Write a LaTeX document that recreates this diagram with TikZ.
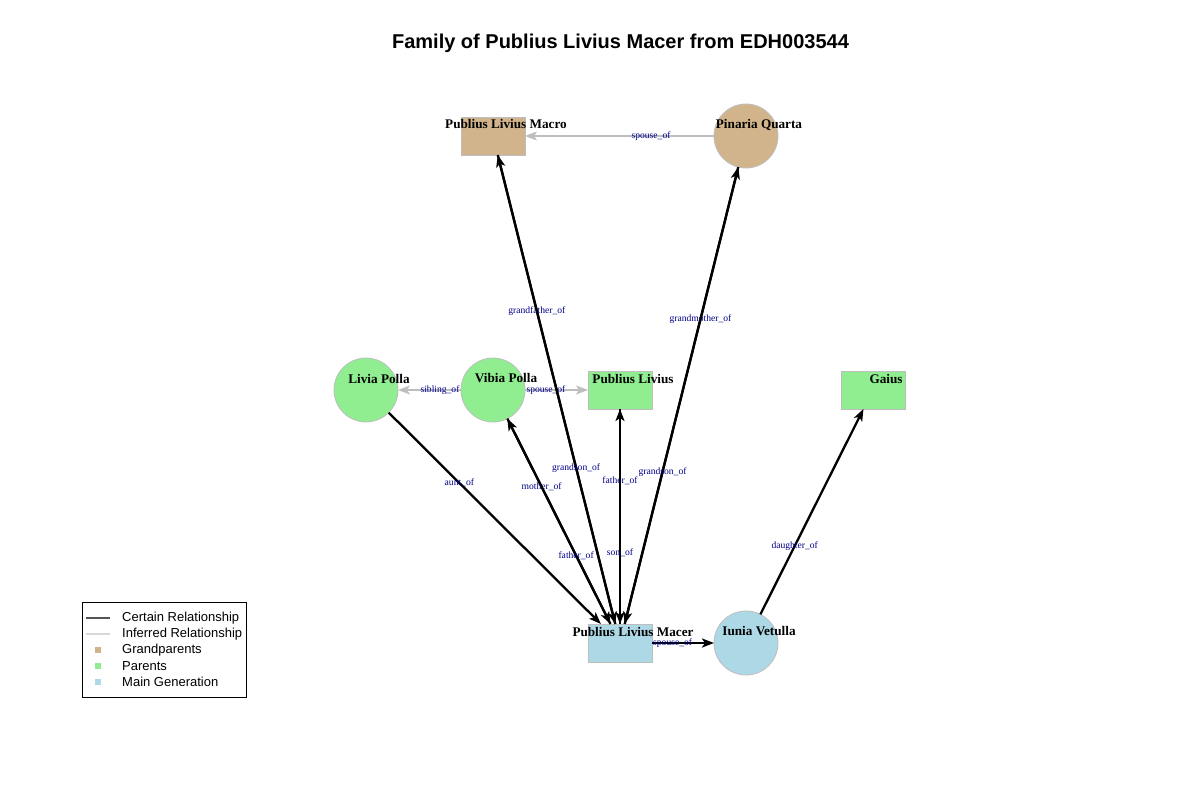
\documentclass[tikz,border=0pt]{standalone}
\usepackage{fontspec}
\setmainfont{Liberation Serif}
\newfontfamily\sansf{Liberation Sans}
\usetikzlibrary{arrows.meta}
\definecolor{tanc}{RGB}{210,180,140}
\definecolor{greenc}{RGB}{144,238,144}
\definecolor{bluec}{RGB}{173,216,230}
\definecolor{framec}{RGB}{190,190,190}
\definecolor{lblc}{RGB}{0,0,139}
\definecolor{inferc}{RGB}{190,190,190}
\definecolor{legcert}{RGB}{85,85,85}
\definecolor{leginf}{RGB}{215,215,215}
\begin{document}
\begin{tikzpicture}[x=1pt,y=-1pt,
  sq/.style={draw=framec, line width=0.8pt, minimum width=64pt, minimum height=38pt, inner sep=0pt, outer sep=0pt},
  circ/.style={circle, draw=framec, line width=0.8pt, minimum size=64pt, inner sep=0pt, outer sep=0pt},
  nlbl/.style={font=\fontsize{13.2}{14}\selectfont\bfseries, inner sep=0pt, xshift=13pt, yshift=11.5pt},
  elbl/.style={font=\fontsize{9.6}{10}\selectfont, text=lblc, pos=0.333, inner sep=0pt},
  tipa/.tip={Stealth[length=12pt,width=9pt,inset=3pt]},
  cert/.style={line width=2.3pt, draw=black, -tipa},
  inf/.style={line width=1.1pt, color=inferc, -tipa},
  legtxt/.style={font=\sansf\fontsize{13}{14}\selectfont, anchor=west, inner sep=0pt},
  legsq/.style={minimum size=6pt, inner sep=0pt, outer sep=0pt}
]
\useasboundingbox (0,0) rectangle (1200,800);
\fill[white] (0,0) rectangle (1200,800);

\node[font=\sansf\bfseries\fontsize{20}{22}\selectfont, anchor=base] (title) at (620.5,49) {Family of Publius Livius Macer from EDH003544};

% nodes
\node[sq, fill=tanc, label={[nlbl]center:Publius Livius Macro}] (macro) at (493,136) {};
\node[circ, fill=tanc, label={[nlbl]center:Pinaria Quarta}] (pinaria) at (746,136) {};
\node[circ, fill=greenc, label={[nlbl]center:Livia Polla}] (livia) at (366,390) {};
\node[circ, fill=greenc, label={[nlbl]center:Vibia Polla}] (vibia) at (493,390) {};
\node[sq, fill=greenc, label={[nlbl]center:Publius Livius}] (pl) at (620,390) {};
\node[sq, fill=greenc, label={[nlbl]center:Gaius}] (gaius) at (873,390) {};
\node[sq, fill=bluec, label={[nlbl]center:Publius Livius Macer}] (macer) at (620,643) {};
\node[circ, fill=bluec, label={[nlbl]center:Iunia Vetulla}] (iunia) at (746,643) {};

% inferred edges
\draw[inf] (pinaria) -- node[elbl]{spouse\_of} (macro);
\draw[inf] (vibia) -- node[elbl]{sibling\_of} (livia);
\draw[inf] (vibia) -- node[elbl]{spouse\_of} (pl);

% certain edges
\draw[cert] (macro) -- node[elbl]{grandfather\_of} (macer);
\draw[cert] (macer) -- node[elbl]{grandson\_of} (macro);
\draw[cert] (pinaria) -- node[elbl]{grandmother\_of} (macer);
\draw[cert] (macer) -- node[elbl]{grandson\_of} (pinaria);
\draw[cert] (livia) -- node[elbl]{aunt\_of} (macer);
\draw[cert] (vibia) -- node[elbl]{mother\_of} (macer);
\draw[cert] (macer) -- node[elbl]{father\_of} (vibia);
\draw[cert] (pl) -- node[elbl]{father\_of} (macer);
\draw[cert] (macer) -- node[elbl]{son\_of} (pl);
\draw[cert] (macer) -- node[elbl]{spouse\_of} (iunia);
\draw[cert] (iunia) -- node[elbl]{daughter\_of} (gaius);

% legend
\draw[black, line width=0.8pt] (82,602) rectangle (246,697);
\coordinate (lc1) at (86,618); \coordinate (lc2) at (110,618);
\coordinate (li1) at (86,634); \coordinate (li2) at (110,634);
\draw[legcert, line width=1.5pt] (lc1) -- (lc2);
\draw[leginf, line width=1.5pt] (li1) -- (li2);
\node[legsq, fill=tanc] (lsq1) at (98,650) {};
\node[legsq, fill=greenc] (lsq2) at (98,666) {};
\node[legsq, fill=bluec] (lsq3) at (98,682) {};
\node[legtxt] (lt1) at (122,618) {Certain Relationship};
\node[legtxt] (lt2) at (122,634) {Inferred Relationship};
\node[legtxt] (lt3) at (122,650) {Grandparents};
\node[legtxt] (lt4) at (122,666) {Parents};
\node[legtxt] (lt5) at (122,682) {Main Generation};
\end{tikzpicture}
\end{document}
